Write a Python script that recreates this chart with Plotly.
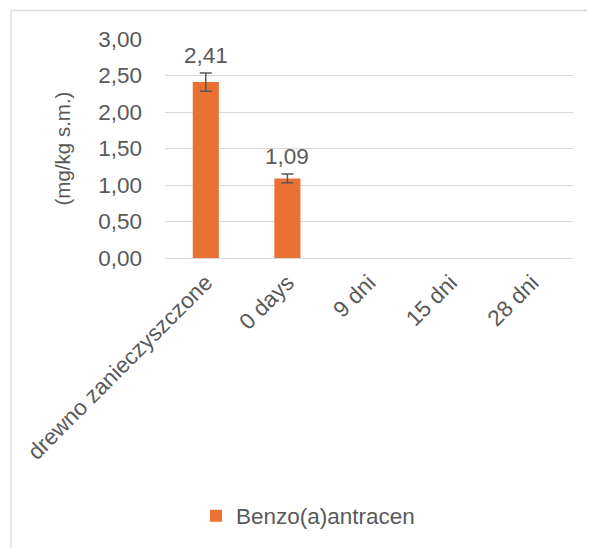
import plotly.graph_objects as go

categories = ["drewno zanieczyszczone", "0 days", "9 dni", "15 dni", "28 dni"]
values = [2.41, 1.09, None, None, None]
errors = [0.125, 0.06, None, None, None]
series_name = "Benzo(a)antracen"
y_ticks = [0, 0.5, 1.0, 1.5, 2.0, 2.5, 3.0]

W, H = 595, 548
OFF = 8  # page body margin offset
# target plot area in screen pixels
PX0, PX1, PY0, PY1 = 165, 573, 39, 258
L = PX0 - OFF
T = PY0 - OFF
R = W - (PX1 - OFF)
B = H - (PY1 - OFF)
pw, ph = W - L - R, H - T - B

def px2x(p):
    return (p - OFF - L) / pw

def py2y(p):
    return (H - B - (p - OFF)) / ph

txt = "#595959"
font = "Liberation Sans, Arial, sans-serif"
fs = 22.5

fig = go.Figure()
fig.add_trace(go.Bar(
    x=categories, y=values, name=series_name,
    marker=dict(color="#E97132", line=dict(width=0)),
    error_y=dict(type="data", array=[e if e is not None else 0 for e in errors],
                 visible=True, color="#595959", thickness=1.5, width=6),
    showlegend=True,
))

for c, v, e in zip(categories, values, errors):
    if v is None:
        continue
    fig.add_annotation(x=c, y=v + e, xref="x", yref="y",
                       text=("%.2f" % v).replace(".", ","), showarrow=False,
                       yanchor="bottom", yshift=3,
                       font=dict(size=fs, color=txt, family=font))

fig.add_shape(type="rect", xref="paper", yref="paper",
              x0=px2x(11), x1=px2x(620), y0=py2y(580), y1=py2y(10.5),
              line=dict(color="#d9d9d9", width=1.3), fillcolor="rgba(0,0,0,0)", layer="below")

fig.update_layout(
    width=W, height=H,
    margin=dict(l=L, r=R, t=T, b=B, pad=0, autoexpand=False),
    paper_bgcolor="white", plot_bgcolor="white",
    separators=",.",
    bargap=0.68,
    font=dict(family=font, color=txt, size=fs),
    xaxis=dict(
        tickangle=-45, tickfont=dict(size=fs, color=txt, family=font),
        showgrid=False, showline=False, ticks="", ticklabelstandoff=6,
        fixedrange=True, automargin=False,
    ),
    yaxis=dict(
        range=[0, 3], tickvals=y_ticks, tickformat=".2f",
        tickfont=dict(size=fs, color=txt, family=font),
        showgrid=True, gridcolor="#d9d9d9", gridwidth=1.3,
        zeroline=True, zerolinecolor="#d9d9d9", zerolinewidth=1.3,
        showline=False, ticks="", ticklabelstandoff=22, automargin=False,
        title=dict(text="(mg/kg s.m.)", font=dict(size=20.5, color=txt, family=font), standoff=22),
    ),
    legend=dict(
        orientation="h", x=px2x(196), xanchor="left", y=py2y(516), yanchor="middle",
        font=dict(size=fs, color=txt, family=font), bgcolor="rgba(0,0,0,0)",
    ),
    showlegend=True,
)

fig.write_html("out.html")
